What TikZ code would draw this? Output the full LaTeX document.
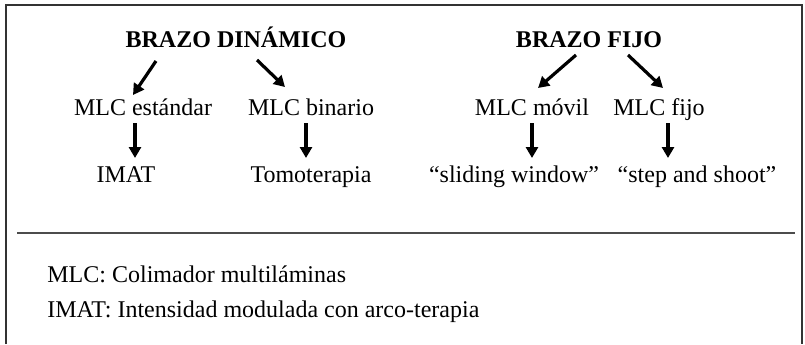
\documentclass[tikz,border=0pt]{standalone}
\usepackage{fontspec}
\setmainfont{Liberation Serif}
\usetikzlibrary{arrows.meta,calc}
\begin{document}
\begin{tikzpicture}[x=0.5pt,y=-0.5pt,
  txt/.style={inner sep=0pt,anchor=base,font=\fontsize{12pt}{14pt}\selectfont},
  ttl/.style={txt,font=\fontsize{12pt}{14pt}\selectfont\bfseries},
  lgd/.style={inner sep=0pt,anchor=base west,font=\fontsize{12pt}{14pt}\selectfont},
  arr/.style={line width=1.6pt,-{Triangle[length=5.5pt,width=6pt]}}]
\useasboundingbox (0,0) rectangle (805,344);
\draw[line width=0.8pt,black!80] (6,344) -- (6,5) -- (802,5) -- (802,344);
\draw[line width=1pt,black!70] (17,233) -- (795,233);
% nodes
\node[ttl] (bd) at (236,47) {BRAZO DINÁMICO};
\node[ttl] (bf) at (589,47) {BRAZO FIJO};
\node[txt] (std) at (143,115) {MLC estándar};
\node[txt] (bin) at (311,115) {MLC binario};
\node[txt] (mov) at (532,115) {MLC móvil};
\node[txt] (fij) at (659,115) {MLC fijo};
\node[txt] (imat) at (126,182) {IMAT};
\node[txt] (tomo) at (311,182) {Tomoterapia};
\node[txt] (sw) at (514,182) {“sliding window”};
\node[txt] (ss) at (697,182) {“step and shoot”};
\node[lgd] (l1) at (47,282) {MLC: Colimador multiláminas};
\node[lgd] (l2) at (47,317) {IMAT: Intensidad modulada con arco-terapia};
% connectors
\draw[arr] ($(bd.base)+(-80,14)$) -- ($(std.base)+(-10,-20)$);
\draw[arr] ($(bd.base)+(21,13)$) -- ($(bin.base)+(-26,-28)$);
\draw[arr] ($(std.base)+(-8,8)$) -- ($(imat.base)+(9,-24)$);
\draw[arr] ($(bin.base)+(-5,8)$) -- ($(tomo.base)+(-5,-24)$);
\draw[arr] ($(bf.base)+(-13,8)$) -- ($(mov.base)+(6,-27)$);
\draw[arr] ($(bf.base)+(39,8)$) -- ($(fij.base)+(4,-27)$);
\draw[arr] ($(mov.base)+(0,8)$) -- ($(sw.base)+(18,-24)$);
\draw[arr] ($(fij.base)+(9,8)$) -- ($(ss.base)+(-29,-24)$);
\end{tikzpicture}
\end{document}
